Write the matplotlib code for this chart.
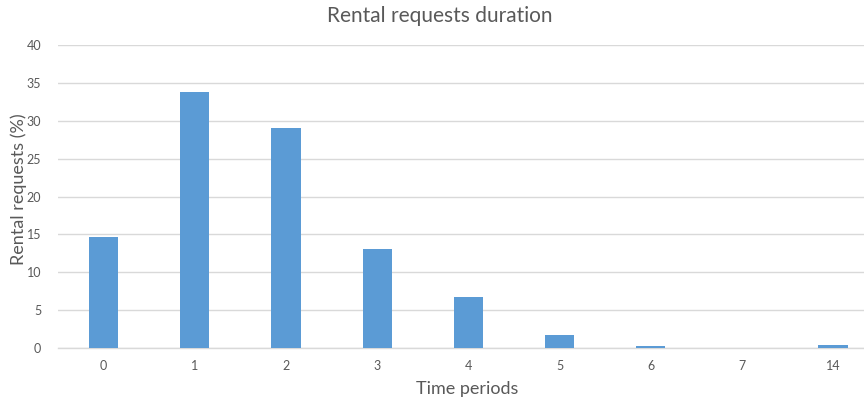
import matplotlib
matplotlib.use("Agg")
import matplotlib.pyplot as plt

periods = ["0", "1", "2", "3", "4", "5", "6", "7", "14"]
share_pct = [14.7, 33.75, 29.0, 13.1, 6.7, 1.7, 0.2, 0.0, 0.35]
y_ticks = [0, 5, 10, 15, 20, 25, 30, 35, 40]

bar_color = "#5B9BD5"
grid_color = "#D9D9D9"
text_color = "#595959"

plt.rcParams["font.family"] = ["Lato", "DejaVu Sans"]

W, H = 864, 400
fig = plt.figure(figsize=(W / 100, H / 100), dpi=100)
ax = fig.add_axes([58 / W, 52 / H, (W - 58) / W, (348 - 45) / H])

x = list(range(len(periods)))
ax.bar(x, share_pct, width=0.32, color=bar_color, zorder=3)

ax.set_xlim(-0.5, 8.34)
ax.set_ylim(0, 40)
ax.set_yticks(y_ticks)
ax.set_xticks(x)
ax.set_xticklabels(periods)

ax.yaxis.grid(True, color=grid_color, linewidth=1.0, zorder=0)
ax.set_axisbelow(True)
for side in ("top", "right", "left"):
    ax.spines[side].set_visible(False)
ax.spines["bottom"].set_color(grid_color)
ax.spines["bottom"].set_linewidth(1.0)

ax.tick_params(axis="both", length=0, labelsize=9, labelcolor=text_color)
ax.tick_params(axis="x", pad=9)
ax.tick_params(axis="y", pad=12)

# Title and axis titles positioned in figure pixels
fig.text(440 / W, 1 - 16 / H, "Rental requests duration", fontsize=15,
         color=text_color, ha="center", va="center")
fig.text(467 / W, 1 - 389 / H, "Time periods", fontsize=13,
         color=text_color, ha="center", va="center")
fig.text(19 / W, 1 - 189 / H, "Rental requests (%)", fontsize=13,
         color=text_color, ha="center", va="center", rotation=90)

fig.savefig("out.png", dpi=100)
